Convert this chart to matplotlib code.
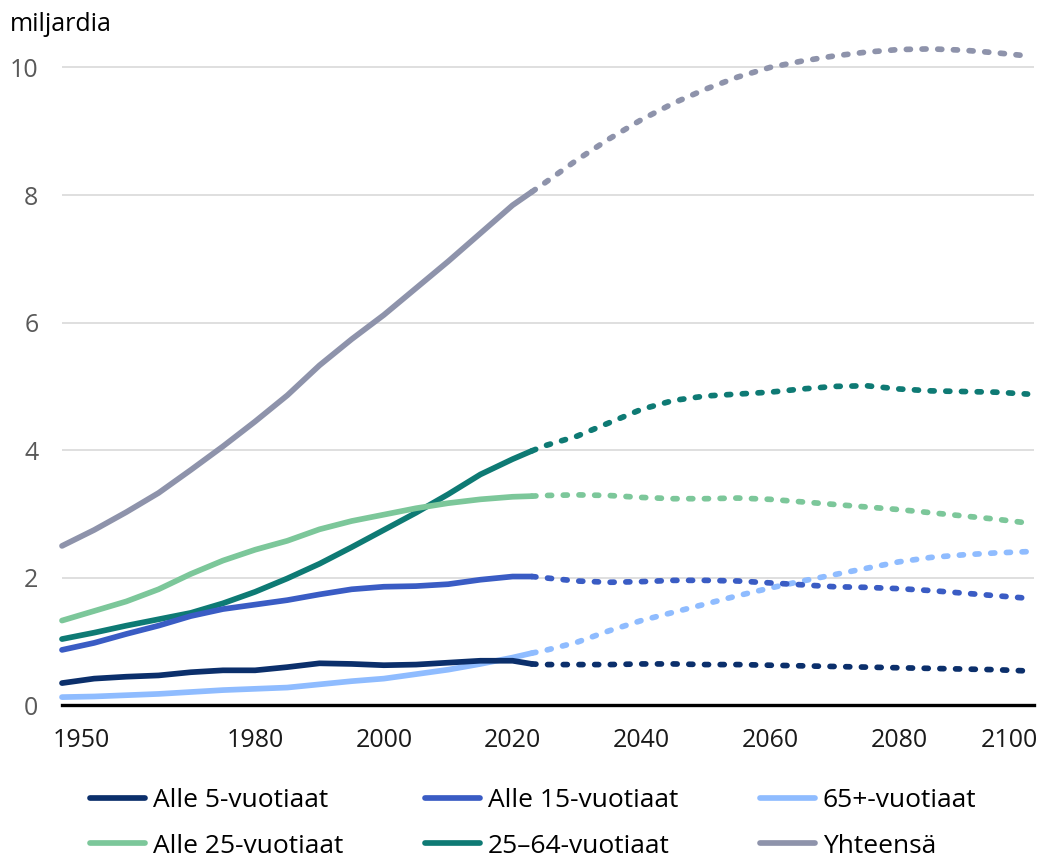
import numpy as np
import matplotlib
matplotlib.use("Agg")
import matplotlib.pyplot as plt
from matplotlib.transforms import ScaledTranslation

plt.rcParams['font.family'] = ['Open Sans', 'DejaVu Sans']
plt.rcParams['lines.scale_dashes'] = False

# toteutunut kehitys 1950-2023
vuodet_hist = [1950, 1955, 1960, 1965, 1970, 1975, 1980, 1985, 1990, 1995,
               2000, 2005, 2010, 2015, 2020, 2023]
alle5_hist = [0.35, 0.42, 0.45, 0.47, 0.52, 0.55, 0.55, 0.60, 0.66, 0.65,
              0.63, 0.64, 0.67, 0.70, 0.70, 0.65]
alle15_hist = [0.87, 0.98, 1.12, 1.25, 1.40, 1.51, 1.58, 1.65, 1.74, 1.82,
               1.86, 1.87, 1.90, 1.97, 2.02, 2.02]
yli65_hist = [0.13, 0.14, 0.16, 0.18, 0.21, 0.24, 0.26, 0.28, 0.33, 0.38,
              0.42, 0.49, 0.56, 0.65, 0.75, 0.82]
alle25_hist = [1.33, 1.48, 1.63, 1.82, 2.06, 2.27, 2.44, 2.58, 2.76, 2.89,
               2.99, 3.09, 3.17, 3.23, 3.27, 3.28]
tyoika_hist = [1.04, 1.14, 1.25, 1.35, 1.45, 1.60, 1.78, 1.99, 2.22, 2.48,
               2.75, 3.02, 3.31, 3.62, 3.86, 3.99]
yht_hist = [2.50, 2.75, 3.03, 3.33, 3.69, 4.06, 4.45, 4.86, 5.33, 5.74,
            6.12, 6.54, 6.96, 7.40, 7.84, 8.05]

# ennuste 2023-2100
vuodet_enn = [2023, 2025, 2030, 2035, 2040, 2045, 2050, 2055, 2060, 2065,
              2070, 2075, 2080, 2085, 2090, 2095, 2100]
alle5_enn = [0.65, 0.64, 0.64, 0.64, 0.65, 0.65, 0.64, 0.64, 0.63, 0.62,
             0.61, 0.60, 0.59, 0.58, 0.57, 0.56, 0.54]
alle15_enn = [2.02, 2.00, 1.95, 1.93, 1.94, 1.96, 1.96, 1.95, 1.92, 1.89,
              1.86, 1.85, 1.83, 1.80, 1.76, 1.72, 1.68]
yli65_enn = [0.82, 0.86, 0.99, 1.17, 1.33, 1.46, 1.59, 1.72, 1.84, 1.95,
             2.05, 2.15, 2.25, 2.32, 2.36, 2.39, 2.41]
alle25_enn = [3.28, 3.29, 3.30, 3.29, 3.26, 3.24, 3.24, 3.25, 3.23, 3.19,
              3.15, 3.11, 3.07, 3.02, 2.97, 2.92, 2.86]
tyoika_enn = [3.99, 4.07, 4.22, 4.43, 4.64, 4.78, 4.85, 4.88, 4.91, 4.96,
              5.00, 5.01, 4.96, 4.93, 4.92, 4.91, 4.88]
yht_enn = [8.05, 8.19, 8.55, 8.88, 9.18, 9.44, 9.66, 9.85, 10.00, 10.10,
           10.18, 10.24, 10.28, 10.29, 10.27, 10.23, 10.18]

sarjat = [
    ("Alle 5-vuotiaat", "#0b2f6b", alle5_hist, alle5_enn),
    ("Alle 25-vuotiaat", "#7cc79a", alle25_hist, alle25_enn),
    ("Alle 15-vuotiaat", "#3a5cc4", alle15_hist, alle15_enn),
    ("25–64-vuotiaat", "#0e7a74", tyoika_hist, tyoika_enn),
    ("65+-vuotiaat", "#8fbcff", yli65_hist, yli65_enn),
    ("Yhteensä", "#8e93ab", yht_hist, yht_enn),
]

fig = plt.figure(figsize=(10.42, 8.59), dpi=100)
ax = fig.add_axes([62 / 1042, 0.1788, (1034 - 62) / 1042, 0.7873])

# piirtojärjestys: yhteensä alimmaksi
for nimi, vari, hist, enn in reversed(sarjat):
    ax.plot(vuodet_hist, hist, color=vari, lw=4.1, solid_capstyle='round',
            solid_joinstyle='round', label=nimi, clip_on=False)
    ax.plot(vuodet_enn, enn, color=vari, lw=4.1, dashes=(2.9, 8.4),
            dash_capstyle='round', clip_on=False)

ax.set_xlim(1950, 2101)
ax.set_ylim(0, 10.6)
ax.set_yticks([0, 2, 4, 6, 8, 10])
ax.set_xticks([1950, 1980, 2000, 2020, 2040, 2060, 2080, 2100])
ax.grid(axis='y', color='#d9d9d9', lw=1.2)
ax.set_axisbelow(True)
for s in ['left', 'right', 'top']:
    ax.spines[s].set_visible(False)
ax.spines['bottom'].set_color('black')
ax.spines['bottom'].set_linewidth(2.4)
ax.spines['bottom'].set_zorder(5)
ax.tick_params(axis='both', length=0)
ax.tick_params(axis='y', labelsize=18, labelcolor='#595959', pad=17)
ax.tick_params(axis='x', labelsize=18, labelcolor='#1a1a1a', pad=16)

# reunimmaiset vuosiluvut hieman sisäänpäin
xlabels = ax.get_xticklabels()
xlabels[0].set_transform(xlabels[0].get_transform() + ScaledTranslation(0.19, 0, fig.dpi_scale_trans))
xlabels[-1].set_transform(xlabels[-1].get_transform() + ScaledTranslation(-0.18, 0, fig.dpi_scale_trans))

fig.text(10 / 1042, 0.964, "miljardia", fontsize=18, color='black', va='baseline', ha='left')

kahvat, nimet = ax.get_legend_handles_labels()
jarjestys = {n: i for i, (n, *_ ) in enumerate(sarjat)}
pari = sorted(zip(kahvat, nimet), key=lambda p: jarjestys[p[1]])
fig.legend([p[0] for p in pari], [p[1] for p in pari], ncol=3, frameon=False,
           fontsize=19, loc='upper left', bbox_to_anchor=(90 / 1042, 1 - 788 / 859),
           handlelength=2.1, handletextpad=0.28, columnspacing=3.1,
           labelspacing=0.78, borderaxespad=0, borderpad=0)

fig.savefig("out.png", dpi=100)
